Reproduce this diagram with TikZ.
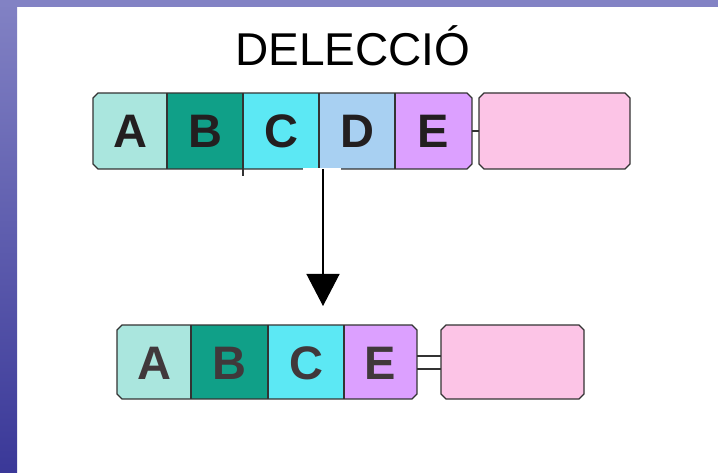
\documentclass[tikz,border=0pt]{standalone}
\usepackage{fontspec}
\setmainfont{Liberation Sans}
\usetikzlibrary{arrows.meta}
\definecolor{bandA}{HTML}{8282C4}
\definecolor{bandB}{HTML}{3A3898}
\definecolor{cA}{HTML}{AAE6DE}
\definecolor{cB}{HTML}{10A088}
\definecolor{cC}{HTML}{5CE8F4}
\definecolor{cD}{HTML}{A8D0F2}
\definecolor{cE}{HTML}{DCA0FF}
\definecolor{cP}{HTML}{FCC4E6}
\definecolor{bord}{HTML}{333333}
\definecolor{txtA}{HTML}{231F20}
\definecolor{txtB}{HTML}{40383B}
\begin{document}
\begin{tikzpicture}[x=1pt,y=-1pt,
  outl/.style={draw=bord,line width=1.3pt,line join=miter},
  lett/.style={font=\fontsize{47}{50}\selectfont\bfseries,anchor=base,inner sep=0pt},
  ttl/.style={font=\fontsize{46}{50}\selectfont,anchor=base,inner sep=0pt}]
\useasboundingbox (0,0) rectangle (718,473);
\fill[white] (0,0) rectangle (718,473);
\shade[top color=bandA,bottom color=bandB] (0,0) rectangle (17,473);
\fill[bandA] (0,0) rectangle (718,7);
% title
\node[ttl] (title) at (353,66) {DELECCIÓ};
% ---------- top row ----------
\begin{scope}
\clip (98,93) -- (467,93) -- (472,98) -- (472,164) -- (467,169) -- (98,169) -- (93,164) -- (93,98) -- cycle;
\fill[cA] (93,93) rectangle (167,169);
\fill[cB] (167,93) rectangle (243,169);
\fill[cC] (243,93) rectangle (319,169);
\fill[cD] (319,93) rectangle (395,169);
\fill[cE] (395,93) rectangle (472,169);
\end{scope}
\draw[outl] (98,93) -- (467,93) -- (472,98) -- (472,164) -- (467,169) -- (98,169) -- (93,164) -- (93,98) -- cycle;
\draw[outl] (167,93) -- (167,169);
\draw[outl] (243,93) -- (243,176);
\draw[outl] (319,93) -- (319,169);
\draw[outl] (395,93) -- (395,169);
\fill[white] (303,168.2) rectangle (341,170.8);
\node[lett,text=txtA] (tA) at (130,148) {A};
\node[lett,text=txtA] (tB) at (205,148) {B};
\node[lett,text=txtA] (tC) at (281,148) {C};
\node[lett,text=txtA] (tD) at (357,148) {D};
\node[lett,text=txtA] (tE) at (433.5,148) {E};
% pink top
\draw[outl,fill=cP] (484,93) -- (625,93) -- (630,98) -- (630,164) -- (625,169) -- (484,169) -- (479,164) -- (479,98) -- cycle;
\coordinate (eR) at (472,131);
\coordinate (pL) at (479,131);
\draw[outl] (eR) -- (pL);
% arrow
\coordinate (arrS) at (323,169);
\coordinate (arrE) at (323,306);
\draw[draw=black,line width=1.3pt,-{Triangle[width=33pt,length=32pt]}] (arrS) -- (arrE);
% ---------- bottom row ----------
\begin{scope}
\clip (122,325) -- (412,325) -- (417,330) -- (417,394) -- (412,399) -- (122,399) -- (117,394) -- (117,330) -- cycle;
\fill[cA] (117,325) rectangle (191,399);
\fill[cB] (191,325) rectangle (268,399);
\fill[cC] (268,325) rectangle (344,399);
\fill[cE] (344,325) rectangle (417,399);
\end{scope}
\draw[outl] (122,325) -- (412,325) -- (417,330) -- (417,394) -- (412,399) -- (122,399) -- (117,394) -- (117,330) -- cycle;
\draw[outl] (191,325) -- (191,399);
\draw[outl] (268,325) -- (268,399);
\draw[outl] (344,325) -- (344,399);
\node[lett,text=txtB] (bA) at (154,379) {A};
\node[lett,text=txtB] (bB) at (229.5,379) {B};
\node[lett,text=txtB] (bC) at (306,379) {C};
\node[lett,text=txtB] (bE) at (380.5,379) {E};
% pink bottom
\draw[outl,fill=cP] (446,325) -- (579,325) -- (584,330) -- (584,394) -- (579,399) -- (446,399) -- (441,394) -- (441,330) -- cycle;
\coordinate (eR1) at (417,356);
\coordinate (pL1) at (441,356);
\coordinate (eR2) at (417,369);
\coordinate (pL2) at (441,369);
\draw[outl] (eR1) -- (pL1);
\draw[outl] (eR2) -- (pL2);
\end{tikzpicture}
\end{document}
